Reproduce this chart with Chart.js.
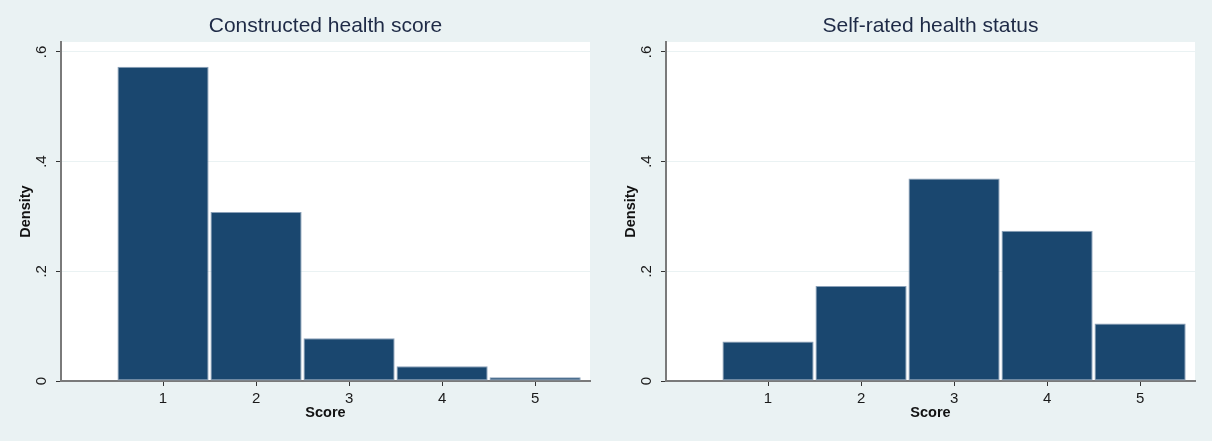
<!DOCTYPE html>
<html>
<head>
<meta charset="utf-8">
<script src="https://cdn.jsdelivr.net/npm/chart.js@4.4.1/dist/chart.umd.min.js"></script>
<style>
  html, body { margin: 0; padding: 0; background: #eaf2f3; }
  #wrap { position: relative; width: 1212px; height: 441px; background: #eaf2f3; overflow: hidden; }
  canvas { position: absolute; top: 0; }
  #c1 { left: 0; }
  #c2 { left: 605px; }
</style>
</head>
<body>
<div id="wrap">
  <canvas id="c1" width="606" height="441"></canvas>
  <canvas id="c2" width="606" height="441"></canvas>
</div>
<script>
// ---- data ----
const scores = [1, 2, 3, 4, 5];
const constructedDensity = [0.573, 0.308, 0.078, 0.027, 0.007];
const selfRatedDensity = [0.072, 0.173, 0.369, 0.274, 0.105];
const yTickValues = [0, 0.2, 0.4, 0.6];
const yTickLabels = ['0', '.2', '.4', '.6'];
const xTickValues = [1, 2, 3, 4, 5];
const titles = ['Constructed health score', 'Self-rated health status'];
const xTitle = 'Score';
const yTitle = 'Density';

const FONT = "'Liberation Sans', Arial, Helvetica, sans-serif";

const plotBg = {
  id: 'plotBg',
  beforeDraw(chart) {
    const {ctx, chartArea: a} = chart;
    ctx.save();
    ctx.fillStyle = '#ffffff';
    ctx.fillRect(a.left, a.top, a.right - a.left, a.bottom - a.top);
    ctx.restore();
  }
};

function makeChart(id, title, values) {
  return new Chart(document.getElementById(id), {
    type: 'bar',
    data: {
      datasets: [{
        data: scores.map((s, i) => ({x: s, y: values[i]})),
        backgroundColor: '#1a476f',
        borderColor: '#8aa0b8',
        borderWidth: 1,
        borderSkipped: false,
        barPercentage: 0.98,
        categoryPercentage: 1.0
      }]
    },
    options: {
      responsive: false,
      animation: false,
      layout: { padding: { top: 0, left: 0, right: 16, bottom: 0 } },
      plugins: {
        legend: { display: false },
        tooltip: { enabled: false },
        title: {
          display: true,
          text: title,
          fullSize: false,
          color: '#1e2a46',
          font: { family: FONT, size: 21, weight: 'normal', lineHeight: 1.2 },
          padding: { top: 13.4, bottom: 3.4 }
        }
      },
      scales: {
        x: {
          type: 'linear',
          offset: false,
          min: -0.097,
          max: 5.59,
          afterBuildTicks: s => { s.ticks = xTickValues.map(v => ({value: v})); },
          afterFit: s => { s.height = 60; },
          ticks: {
            color: '#1a1a1a',
            font: { family: FONT, size: 15 },
            padding: 4,
            maxRotation: 0,
            minRotation: 0,
            callback: v => String(v)
          },
          grid: {
            offset: false,
            drawOnChartArea: false,
            drawTicks: true,
            tickLength: 5,
            tickColor: '#333333',
            tickWidth: 1
          },
          border: { display: true, color: '#7a7a7a', width: 2 },
          title: {
            display: true,
            text: xTitle,
            color: '#111111',
            font: { family: FONT, size: 14.5, weight: 'bold', lineHeight: 1.2 },
            padding: { top: 0, bottom: 19.3 }
          }
        },
        y: {
          type: 'linear',
          min: 0,
          max: 0.618,
          afterBuildTicks: s => { s.ticks = yTickValues.map(v => ({value: v})); },
          afterFit: s => { s.width = 61; },
          ticks: {
            color: '#1a1a1a',
            font: { family: FONT, size: 15 },
            minRotation: 90,
            maxRotation: 90,
            crossAlign: 'center',
            padding: 8,
            callback: v => {
              const i = yTickValues.findIndex(t => Math.abs(t - v) < 1e-9);
              return i >= 0 ? yTickLabels[i] : '';
            }
          },
          grid: {
            color: '#eaf2f3',
            lineWidth: 1,
            drawTicks: true,
            tickLength: 5,
            tickColor: '#333333',
            tickWidth: 1
          },
          border: { display: true, color: '#7a7a7a', width: 2 },
          title: {
            display: true,
            text: yTitle,
            color: '#111111',
            font: { family: FONT, size: 14.5, weight: 'bold', lineHeight: 1.2 },
            padding: { top: 16.8, bottom: 0 }
          }
        }
      }
    },
    plugins: [plotBg]
  });
}

makeChart('c1', titles[0], constructedDensity);
makeChart('c2', titles[1], selfRatedDensity);
</script>
</body>
</html>
